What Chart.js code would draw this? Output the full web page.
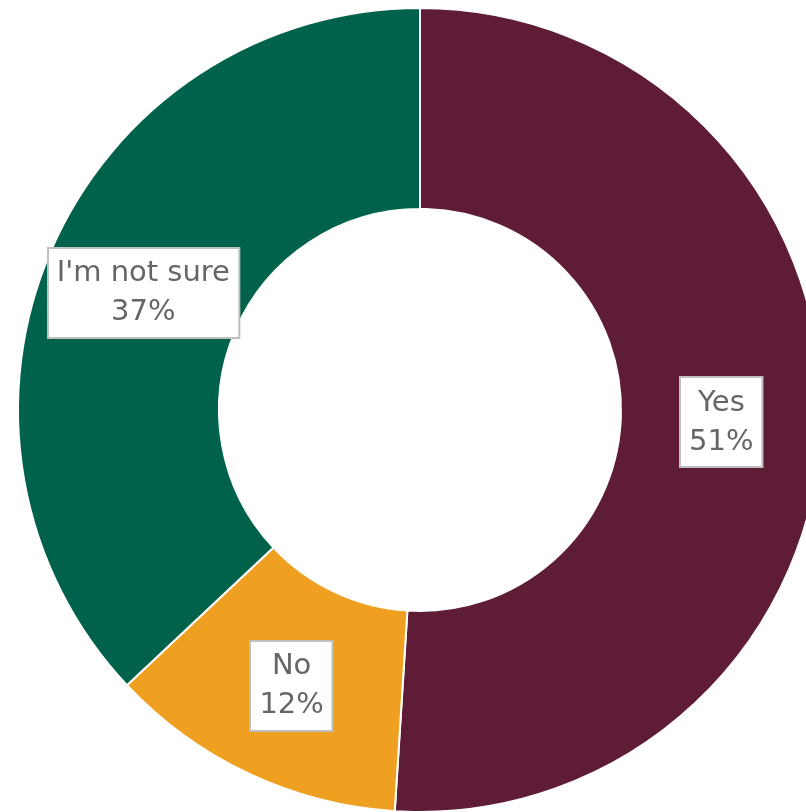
<!DOCTYPE html>
<html>
<head>
<meta charset="utf-8">
<script src="https://cdn.jsdelivr.net/npm/chart.js@4/dist/chart.umd.min.js"></script>
<style>
  html, body { margin: 0; padding: 0; background: #fff; overflow: hidden; }
  body { width: 806px; height: 812px; position: relative; }
  #wrap { position: absolute; left: 0; top: -10px; width: 840px; height: 840px; }
</style>
</head>
<body>
<div id="wrap"><canvas id="pie"></canvas></div>
<script>
// Survey answers
const categorias = ['Yes', 'No', "I'm not sure"];
const porcentajes = [51, 12, 37];
const colores = ['#5F1C36', '#F0A020', '#00624A'];

// draws the white label boxes in the middle of each slice
const cajasEtiquetas = {
  id: 'cajasEtiquetas',
  afterDatasetsDraw(chart) {
    const ctx = chart.ctx;
    const meta = chart.getDatasetMeta(0);
    const fontSize = 29;
    const lineH = 39;
    ctx.save();
    ctx.font = `${fontSize}px "DejaVu Sans", sans-serif`;
    ctx.textAlign = 'center';
    ctx.textBaseline = 'middle';
    meta.data.forEach((arc, i) => {
      const p = arc.tooltipPosition();
      const cy = p.y + 3;
      const lineas = [categorias[i], porcentajes[i] + '%'];
      const w = Math.max(...lineas.map(t => ctx.measureText(t).width)) + 18;
      const h = 90;
      const x = Math.round(p.x - w / 2), y = Math.round(cy - h / 2);
      ctx.fillStyle = '#fff';
      ctx.fillRect(x, y, w, h);
      ctx.strokeStyle = '#BFBFBF';
      ctx.lineWidth = 2;
      ctx.strokeRect(x, y, w, h);
      ctx.fillStyle = '#666666';
      ctx.fillText(lineas[0], p.x, cy - lineH / 2);
      ctx.fillText(lineas[1], p.x, cy + lineH / 2);
    });
    ctx.restore();
  }
};

new Chart(document.getElementById('pie'), {
  type: 'doughnut',
  data: {
    labels: categorias,
    datasets: [{ data: porcentajes, backgroundColor: colores, borderColor: '#fff', borderWidth: 2 }]
  },
  options: {
    responsive: true,
    maintainAspectRatio: false,
    animation: false,
    cutout: '50%',
    layout: { padding: 17 },
    plugins: { legend: { display: false }, tooltip: { enabled: false } }
  },
  plugins: [cajasEtiquetas]
});
</script>
</body>
</html>
